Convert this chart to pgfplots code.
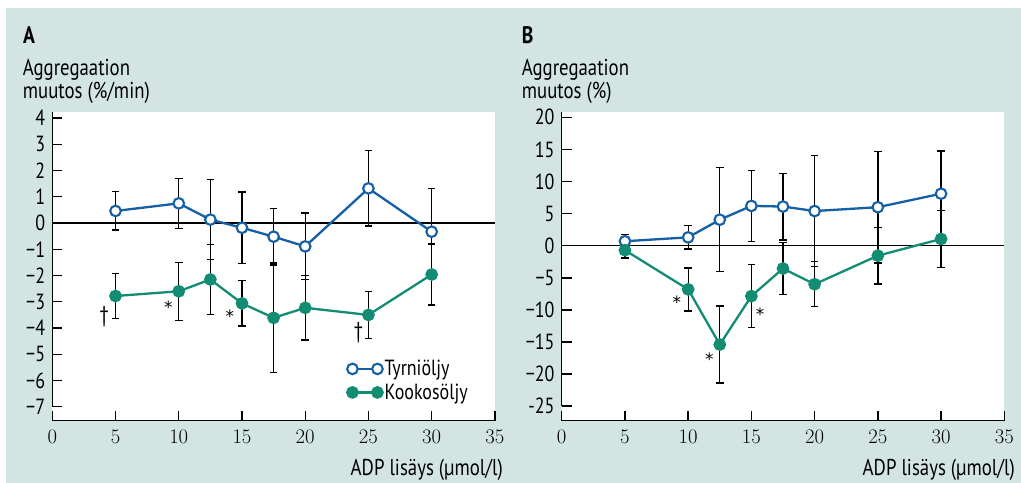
\documentclass[border=0pt]{standalone}
\usepackage{fontspec}
\setmainfont{PT Sans}[FakeStretch=0.82]
\newfontfamily\astfont{DejaVu Sans}
\usepackage{pgfplots}
\pgfplotsset{compat=1.18}

\definecolor{bgteal}{HTML}{D2E5E3}
\definecolor{tblue}{HTML}{145FA5}
\definecolor{kgreen}{HTML}{128C73}
\newcommand{\lbl}{\fontsize{23}{26}\selectfont}
\newcommand{\tck}{\fontsize{22}{25}\selectfont}

\pgfplotsset{
  panel/.style={
    scale only axis, width=442.6bp, height=308.7bp,
    xmin=0, xmax=35,
    axis x line=bottom, axis y line=left,
    axis line style={-, line width=1.4bp},
    y axis line style={draw=none},
    tick align=inside, major tick length=10bp,
    tick style={black, line width=1.4bp},
    xtick={0,5,...,35},
    ticklabel style={font=\tck, inner sep=0pt},
    xticklabel style={yshift=-9bp},
    yticklabel style={xshift=-7bp},
    axis background/.style={fill=white},
    clip=false,
  },
  ebar/.style={draw=none, mark=none, forget plot,
    error bars/y dir=both, error bars/y explicit,
    error bars/error bar style={draw=black, line width=1.3bp},
    error bars/error mark options={draw=black, rotate=90, mark size=3.8bp, line width=1.3bp}},
  zero/.style={black, line width=1.4bp, mark=none, forget plot},
  tyrni/.style={tblue, line width=2.3bp, mark=*,
    mark options={fill=white, draw=tblue, line width=2.1bp, mark size=5.3bp}},
  kooko/.style={kgreen, line width=2.3bp, mark=*,
    mark options={fill=kgreen, draw=kgreen, mark size=5.2bp}},
}
\tikzset{
  note/.style={font=\astfont\fontsize{17}{20}\selectfont, inner sep=0pt, anchor=base},
  dag/.style={font=\lbl, inner sep=0pt, anchor=base},
}

\begin{document}
\begin{tikzpicture}
\useasboundingbox (0,0) rectangle (1021bp,-483bp);
\fill[white] (0,0) rectangle (1021bp,-483bp);
\fill[bgteal] (6bp,-8bp) rectangle (1021bp,-483bp);

% --- A: aggregaation muutos (%/min)
\node[anchor=base west, inner sep=0pt, font=\bfseries\fontsize{24}{26}\selectfont] at (23bp,-43bp) {A};
\node[anchor=base west, inner sep=0pt, font=\lbl] at (22.7bp,-75bp) {Aggregaation};
\node[anchor=base west, inner sep=0pt, font=\lbl] at (22.7bp,-98bp) {muutos (\%/min)};
\node[anchor=base east, inner sep=0pt, font=\lbl] at (503bp,-475bp) {ADP lisäys (µmol/l)};

\begin{axis}[panel,
  at={(52.3bp,-420.7bp)}, anchor=south west,
  ymin=-7.53, ymax=4.23,
  ytick={-7,-6,...,4},
  yticklabels={−7,−6,−5,−4,−3,−2,−1,0,1,2,3,4},
  legend style={at={(axis cs:23.3,-5.15)}, anchor=north west, draw=none, fill=none,
    font=\tck, inner sep=0pt, row sep=2.5bp},
  legend cell align=left,
  legend image code/.code={\draw[#1,mark repeat=1,mark phase=1] plot coordinates {(0bp,0bp) (25bp,0bp)};},
]
\addplot[zero] coordinates {(0,0) (35,0)};
\addplot[ebar] coordinates {
  (5,0.46) +- (0,0.73)
  (10,0.75) +- (0,0.95)
  (12.5,0.13) +- (0,1.53)
  (15,-0.18) +- (0,1.36)
  (17.5,-0.52) +- (0,1.08)
  (20,-0.89) +- (0,1.27)
  (25,1.32) +- (0,1.43)
  (30,-0.33) +- (0,1.65)
};
\addplot[ebar] coordinates {
  (5,-2.78) +- (0,0.85)
  (10,-2.60) +- (0,1.10)
  (12.5,-2.15) +- (0,1.33)
  (15,-3.06) +- (0,0.86)
  (17.5,-3.61) +- (0,2.09)
  (20,-3.23) +- (0,1.23)
  (25,-3.50) +- (0,0.90)
  (30,-1.96) +- (0,1.16)
};
\addplot[tyrni] coordinates {
  (5,0.46) (10,0.75) (12.5,0.13) (15,-0.18) (17.5,-0.52) (20,-0.89) (25,1.32) (30,-0.33)
};
\addlegendentry{Tyrniöljy}
\addplot[kooko] coordinates {
  (5,-2.78) (10,-2.60) (12.5,-2.15) (15,-3.06) (17.5,-3.61) (20,-3.23) (25,-3.50) (30,-1.96)
};
\addlegendentry{Kookosöljy}
\draw[line width=1.4bp] (axis cs:0,-7) -- (axis cs:0,4.23);
\node[dag] at (axis cs:4.1,-3.77) {†};
\node[note] at (axis cs:9.17,-3.45) {*};
\node[note] at (axis cs:14.05,-3.77) {*};
\node[dag] at (axis cs:24.2,-4.38) {†};
\end{axis}

% --- B: aggregaation muutos (%)
\node[anchor=base west, inner sep=0pt, font=\bfseries\fontsize{24}{26}\selectfont] at (521.7bp,-43bp) {B};
\node[anchor=base west, inner sep=0pt, font=\lbl] at (521.7bp,-75bp) {Aggregaation};
\node[anchor=base west, inner sep=0pt, font=\lbl] at (521.7bp,-98bp) {muutos (\%)};
\node[anchor=base east, inner sep=0pt, font=\lbl] at (1015bp,-475bp) {ADP lisäys (µmol/l)};

\begin{axis}[panel,
  at={(561.7bp,-420.7bp)}, anchor=south west,
  ymin=-27.26, ymax=20.83,
  ytick={-25,-20,...,20},
  yticklabels={-25,−20,−15,−10,−5,0,5,10,15,20},
]
\addplot[zero] coordinates {(0,0) (35,0)};
\addplot[ebar] coordinates {
  (5,0.7) +- (0,1.1)
  (10,1.3) +- (0,1.8)
  (12.5,4.05) +- (0,8.1)
  (15,6.2) +- (0,5.5)
  (17.5,6.1) +- (0,5.2)
  (20,5.4) +- (0,8.6)
  (25,6.0) +- (0,8.7)
  (30,8.1) +- (0,6.65)
};
\addplot[ebar] coordinates {
  (5,-0.7) +- (0,1.2)
  (10,-6.8) +- (0,3.35)
  (12.5,-15.4) +- (0,6.0)
  (15,-7.85) +- (0,4.9)
  (17.5,-3.55) +- (0,4.1)
  (20,-6.0) +- (0,3.5)
  (25,-1.55) +- (0,4.4)
  (30,1.05) +- (0,4.45)
};
\addplot[tyrni] coordinates {
  (5,0.7) (10,1.3) (12.5,4.05) (15,6.2) (17.5,6.1) (20,5.4) (25,6.0) (30,8.1)
};
\addplot[kooko] coordinates {
  (5,-0.7) (10,-6.8) (12.5,-15.4) (15,-7.85) (17.5,-3.55) (20,-6.0) (25,-1.55) (30,1.05)
};
\draw[line width=1.4bp] (axis cs:0,-25) -- (axis cs:0,20.83);
\node[note] at (axis cs:9.10,-9.78) {*};
\node[note] at (axis cs:11.68,-18.61) {*};
\node[note] at (axis cs:15.69,-11.60) {*};
\end{axis}
\end{tikzpicture}
\end{document}
